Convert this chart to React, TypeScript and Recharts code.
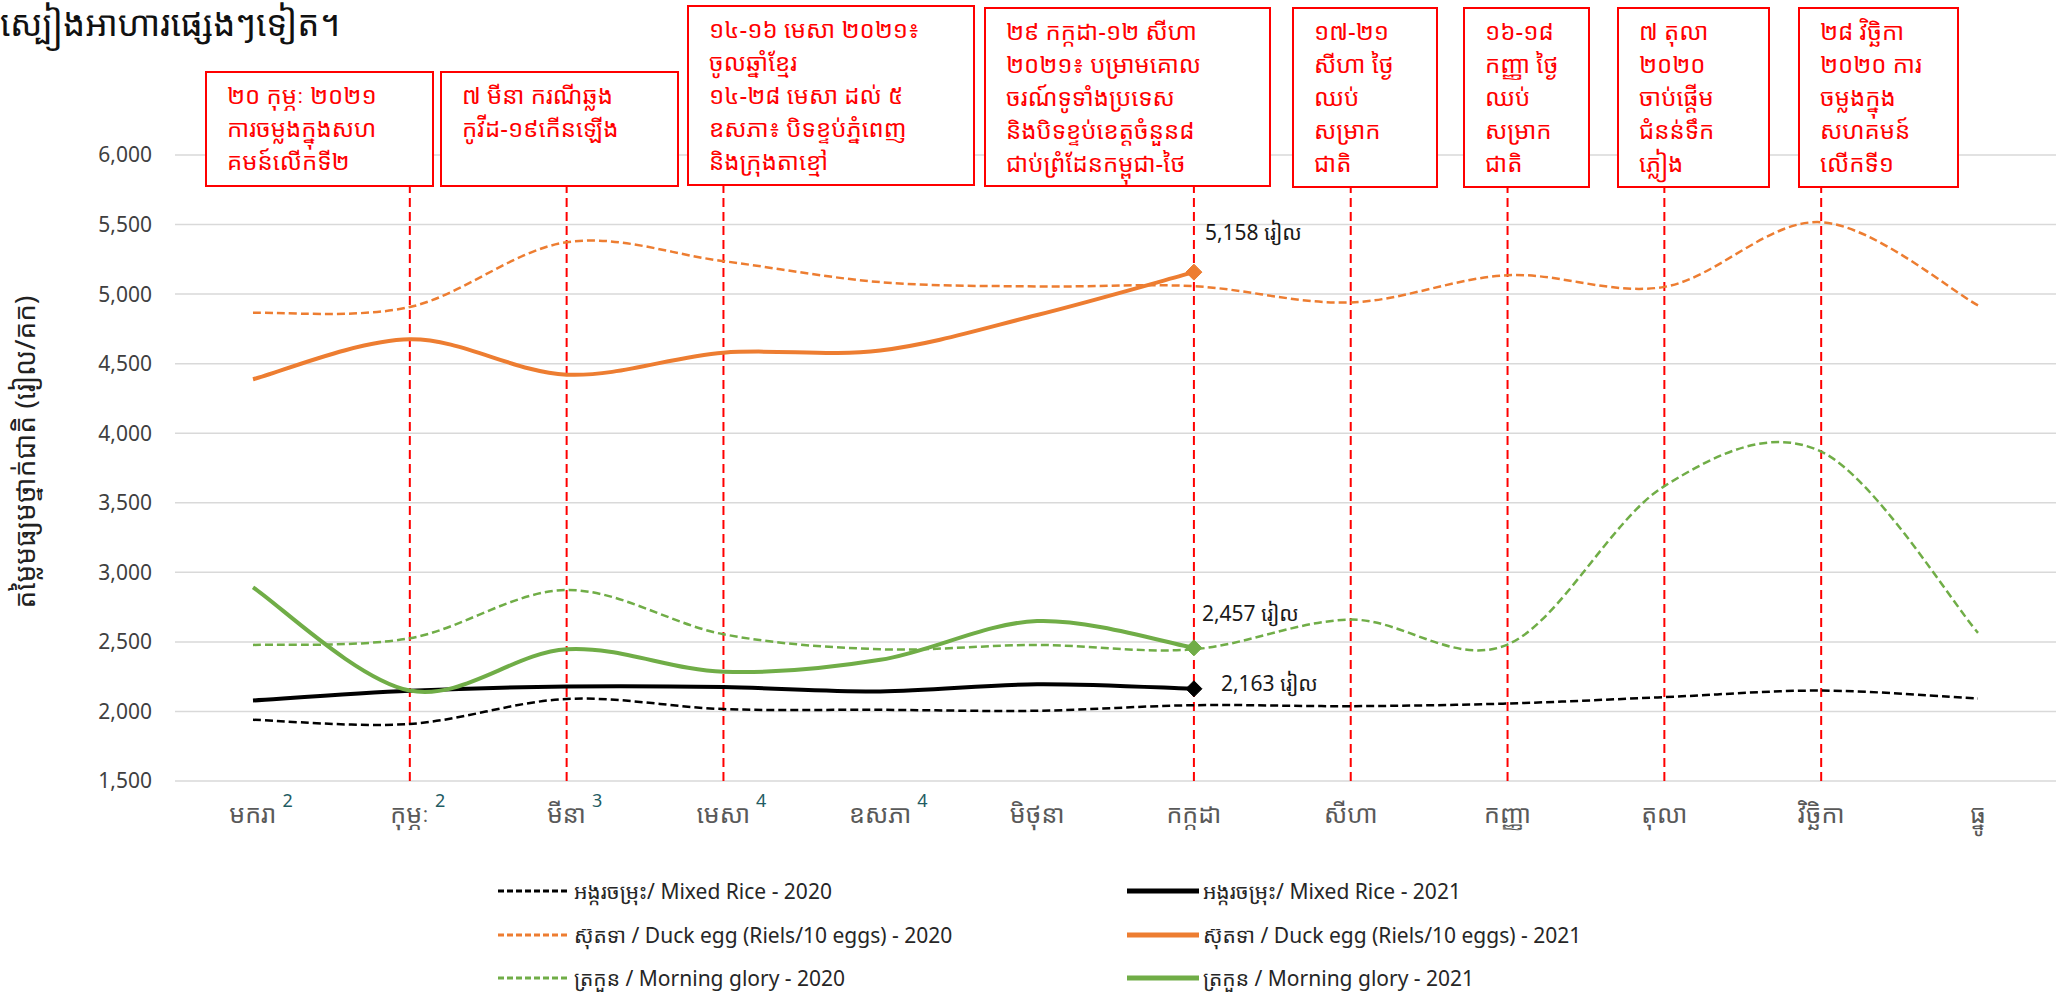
import React from 'react';
import {
  LineChart,
  Line,
  XAxis,
  YAxis,
  CartesianGrid,
  ReferenceLine,
  LabelList,
} from 'recharts';

// months with the small footnote numbers shown beside some of them
const months = ['មករា', 'កុម្ភៈ', 'មីនា', 'មេសា', 'ឧសភា', 'មិថុនា', 'កក្កដា', 'សីហា', 'កញ្ញា', 'តុលា', 'វិច្ឆិកា', 'ធ្នូ'];
const monthNotes = ['2', '2', '3', '4', '4', '', '', '', '', '', '', ''];

const yTicks = [1500, 2000, 2500, 3000, 3500, 4000, 4500, 5000, 5500, 6000];

const rice2020 = [1940, 1910, 2090, 2017, 2012, 2005, 2045, 2038, 2057, 2103, 2150, 2093];
const rice2021 = [2079, 2148, 2179, 2175, 2144, 2196, 2163];
const duck2020 = [4866, 4907, 5373, 5237, 5086, 5055, 5057, 4940, 5136, 5052, 5517, 4919];
const duck2021 = [4388, 4675, 4421, 4579, 4595, 4850, 5158];
const glory2020 = [2478, 2526, 2873, 2555, 2447, 2478, 2447, 2660, 2481, 3620, 3868, 2565];
const glory2021 = [2892, 2150, 2447, 2285, 2371, 2650, 2457];

const TITLE = 'ស្បៀងអាហារផ្សេងៗទៀត។';
const Y_TITLE = 'តម្លៃមធ្យមថ្នាក់ជាតិ (រៀល/គក)';
const UNIT = 'រៀល';

// event notes, month index they point at + text lines
const noteMonths = [1, 2, 3, 6, 7, 8, 9, 10];
const noteLines = [
  ['២០ កុម្ភៈ ២០២១', 'ការចម្លងក្នុងសហ', 'គមន៍លើកទី២'],
  ['៧ មីនា ករណីឆ្លង', 'កូវីដ-១៩កើនឡើង'],
  ['១៤-១៦ មេសា ២០២១៖', 'ចូលឆ្នាំខ្មែរ', '១៤-២៨ មេសា ដល់ ៥', 'ឧសភា៖ បិទខ្ទប់ភ្នំពេញ', 'និងក្រុងតាខ្មៅ'],
  ['២៩ កក្កដា-១២ សីហា', '២០២១៖ បម្រាមគោល', 'ចរណ៍ទូទាំងប្រទេស', 'និងបិទខ្ទប់ខេត្តចំនួន៨', 'ជាប់ព្រំដែនកម្ពុជា-ថៃ'],
  ['១៧-២១', 'សីហា ថ្ងៃ', 'ឈប់', 'សម្រាក', 'ជាតិ'],
  ['១៦-១៨', 'កញ្ញា ថ្ងៃ', 'ឈប់', 'សម្រាក', 'ជាតិ'],
  ['៧ តុលា', '២០២០', 'ចាប់ផ្ដើម', 'ជំនន់ទឹក', 'ភ្លៀង'],
  ['២៨ វិច្ឆិកា', '២០២០ ការ', 'ចម្លងក្នុង', 'សហគមន៍', 'លើកទី១'],
];
// box geometry (left, top, width, height) in page pixels
const noteBoxes = [
  [205, 71, 229, 116],
  [440, 71, 239, 116],
  [687, 5, 288, 181],
  [984, 7, 287, 180],
  [1292, 7, 146, 181],
  [1463, 7, 127, 181],
  [1617, 7, 153, 181],
  [1798, 7, 161, 181],
];

const ORANGE = '#ED7D31';
const GREEN = '#70AD47';
const BLACK = '#000000';
const RED = '#FF0000';

const KHMER = "'Noto Sans Khmer', 'Khmer OS', 'Khmer OS System', 'Noto Sans', sans-serif";
const LATIN = "'Noto Sans', 'Open Sans', sans-serif";

const data = months.map((m, i) => ({
  month: m,
  rice2020: rice2020[i],
  rice2021: rice2021[i] ?? null,
  duck2020: duck2020[i],
  duck2021: duck2021[i] ?? null,
  glory2020: glory2020[i],
  glory2021: glory2021[i] ?? null,
}));

const series = [
  { key: 'rice2020', name: 'អង្ករចម្រុះ/ Mixed Rice - 2020', color: BLACK, dashed: true },
  { key: 'rice2021', name: 'អង្ករចម្រុះ/ Mixed Rice - 2021', color: BLACK, dashed: false },
  { key: 'duck2020', name: 'ស៊ុតទា / Duck egg (Riels/10 eggs) - 2020', color: ORANGE, dashed: true },
  { key: 'duck2021', name: 'ស៊ុតទា / Duck egg (Riels/10 eggs) - 2021', color: ORANGE, dashed: false },
  { key: 'glory2020', name: 'ត្រកួន / Morning glory - 2020', color: GREEN, dashed: true },
  { key: 'glory2021', name: 'ត្រកួន / Morning glory - 2021', color: GREEN, dashed: false },
];

// Excel style smoothing (Catmull-Rom through the points)
function excelSmooth(context: any) {
  let pts: number[][] = [];
  return {
    areaStart() {},
    areaEnd() {},
    lineStart() {
      pts = [];
    },
    lineEnd() {
      const n = pts.length;
      if (!n) return;
      context.moveTo(pts[0][0], pts[0][1]);
      for (let i = 0; i < n - 1; i++) {
        const p0 = pts[Math.max(0, i - 1)];
        const p1 = pts[i];
        const p2 = pts[i + 1];
        const p3 = pts[Math.min(n - 1, i + 2)];
        context.bezierCurveTo(
          p1[0] + (p2[0] - p0[0]) / 6,
          p1[1] + (p2[1] - p0[1]) / 6,
          p2[0] - (p3[0] - p1[0]) / 6,
          p2[1] - (p3[1] - p1[1]) / 6,
          p2[0],
          p2[1]
        );
      }
    },
    point(x: number, y: number) {
      pts.push([+x, +y]);
    },
  };
}

const MonthTick = (props: any) => {
  const { x, y, payload, index } = props;
  const note = monthNotes[index];
  // the footnote digit is ~15px wide with its gap, shift by half so the month stays centred
  return (
    <g transform={`translate(${x + (note ? 8 : 0)},${y})`}>
      <text x={0} y={42} textAnchor="middle" fill="#595959" fontSize={25} fontFamily={KHMER}>
        {payload.value}
        {note ? (
          <tspan fontSize={18} dx={6} dy={-16} fill="#1F5C63" fontFamily={LATIN}>
            {note}
          </tspan>
        ) : null}
      </text>
    </g>
  );
};

const diamondDot = (color: string) => (p: any) => {
  if (p.index !== 6 || p.cx == null || p.cy == null) return <g key={`d-${p.index}`} />;
  const s = 8;
  return (
    <path
      key={`d-${p.index}`}
      d={`M${p.cx},${p.cy - s} L${p.cx + s},${p.cy} L${p.cx},${p.cy + s} L${p.cx - s},${p.cy} Z`}
      fill={color}
      stroke={color}
    />
  );
};

const endLabel = (dx: number, dy: number) => (p: any) => {
  if (p.index !== 6 || p.value == null) return null;
  return (
    <text x={p.x + dx} y={p.y + dy} fill="#1a1a1a" fontSize={21} fontFamily={LATIN}>
      {Number(p.value).toLocaleString('en-US')}{' '}
      <tspan fontFamily={KHMER}>{UNIT}</tspan>
    </text>
  );
};

const LegendSample = ({ color, dashed }: { color: string; dashed: boolean }) => (
  <svg width={72} height={10} style={{ marginRight: 4 }}>
    <line
      x1={0}
      y1={5}
      x2={72}
      y2={5}
      stroke={color}
      strokeWidth={dashed ? 3 : 5}
      strokeDasharray={dashed ? '6 3' : undefined}
    />
  </svg>
);

export default function App() {
  return (
    <div style={{ position: 'absolute', left: 0, top: 0, width: 2056, height: 997, background: '#fff', overflow: 'hidden' }}>
      <LineChart
        width={2056}
        height={997}
        data={data}
        margin={{ top: 155, right: 0, bottom: 156, left: 0 }}
      >
        <CartesianGrid vertical={false} stroke="#d9d9d9" strokeWidth={1.5} />
        <XAxis
          dataKey="month"
          interval={0}
          axisLine={false}
          tickLine={false}
          tickSize={0}
          tickMargin={0}
          height={60}
          padding={{ left: 78, right: 78 }}
          tick={<MonthTick />}
        />
        <YAxis
          width={175}
          domain={[1500, 6000]}
          ticks={yTicks}
          axisLine={false}
          tickLine={false}
          tickMargin={17}
          tick={{ fill: '#404040', fontSize: 21, fontFamily: LATIN }}
          tickFormatter={(v: number) => v.toLocaleString('en-US')}
        />
        {noteMonths.map((mi) => (
          <ReferenceLine
            key={`ref-${mi}`}
            x={months[mi]}
            stroke={RED}
            strokeWidth={2}
            strokeDasharray="9 5"
          />
        ))}
        {series.map((s) => (
          <Line
            key={s.key}
            dataKey={s.key}
            name={s.name}
            type={excelSmooth as any}
            stroke={s.color}
            strokeWidth={s.dashed ? 2.5 : 4}
            strokeDasharray={s.dashed ? '8 4' : undefined}
            dot={s.dashed ? false : diamondDot(s.color)}
            activeDot={false}
            isAnimationActive={false}
          >
            {s.key === 'duck2021' && <LabelList dataKey={s.key} content={endLabel(11, -32)} />}
            {s.key === 'glory2021' && <LabelList dataKey={s.key} content={endLabel(8, -27)} />}
            {s.key === 'rice2021' && <LabelList dataKey={s.key} content={endLabel(27, 2)} />}
          </Line>
        ))}
      </LineChart>

      <div
        style={{
          position: 'absolute',
          left: 0,
          top: -1,
          fontSize: 35,
          fontFamily: KHMER,
          color: '#111',
          whiteSpace: 'nowrap',
        }}
      >
        {TITLE}
      </div>

      <div
        style={{
          position: 'absolute',
          left: 24,
          top: 452,
          transform: 'translate(-50%, -50%) rotate(-90deg)',
          fontSize: 28,
          fontFamily: KHMER,
          color: '#222',
          whiteSpace: 'nowrap',
        }}
      >
        {Y_TITLE}
      </div>

      {noteLines.map((lines, i) => {
        const [l, t, w, h] = noteBoxes[i];
        return (
          <div
            key={`note-${i}`}
            style={{
              position: 'absolute',
              left: l,
              top: t,
              width: w,
              height: h,
              boxSizing: 'border-box',
              border: `2px solid ${RED}`,
              background: '#fff',
              color: RED,
              fontFamily: KHMER,
              fontSize: 24,
              lineHeight: '33px',
              padding: '5px 0 0 20px',
              whiteSpace: 'nowrap',
            }}
          >
            {lines.map((ln, j) => (
              <div key={j}>{ln}</div>
            ))}
          </div>
        );
      })}

      {[0, 1, 2].map((row) =>
        [0, 1].map((col) => {
          const s = series[row * 2 + col];
          return (
            <div
              key={s.key}
              style={{
                position: 'absolute',
                left: col === 0 ? 498 : 1127,
                top: 891 + row * 43.5 - 15,
                height: 30,
                display: 'flex',
                alignItems: 'center',
                fontFamily: KHMER,
                fontSize: 21,
                color: '#262626',
                whiteSpace: 'nowrap',
              }}
            >
              <LegendSample color={s.color} dashed={s.dashed} />
              <span>{s.name}</span>
            </div>
          );
        })
      )}
    </div>
  );
}
